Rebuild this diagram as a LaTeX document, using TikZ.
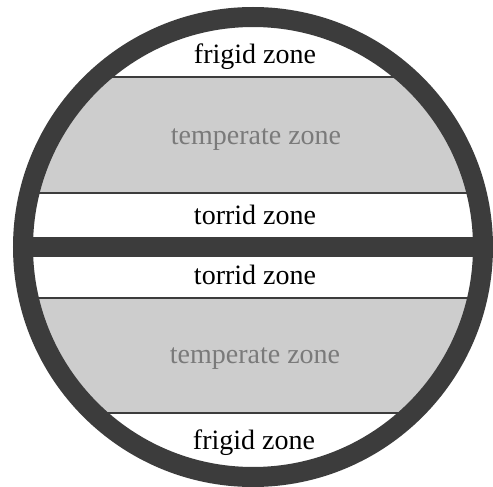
\documentclass[tikz,border=0pt]{standalone}
\usepackage{fontspec}
\setmainfont{Liberation Serif}
\definecolor{ringc}{HTML}{3C3C3C}
\definecolor{bandc}{HTML}{CDCDCD}
\definecolor{tempc}{HTML}{7A7A7A}
\tikzset{
  zonelabel/.style={anchor=base, inner sep=0pt, font=\fontsize{28}{28}\selectfont, text=black},
  templabel/.style={zonelabel, text=tempc},
  bandline/.style={draw=ringc, line width=1.6pt},
}
\begin{document}
\begin{tikzpicture}[x=1pt,y=-1pt]
\useasboundingbox (0,0) rectangle (493,487);
\fill[white] (0,0) rectangle (493,487);
\coordinate (c) at (253,247);
\begin{scope}
  \clip (c) circle[radius=222];
  \fill[bandc] (0,77) rectangle (493,193);
  \fill[bandc] (0,298) rectangle (493,413);
  \draw[bandline] (0,77) -- (493,77);
  \draw[bandline] (0,193) -- (493,193);
  \draw[bandline] (0,298) -- (493,298);
  \draw[bandline] (0,413) -- (493,413);
  \draw[ringc, line width=20pt] (0,247) -- (493,247);
\end{scope}
\draw[ringc, line width=20pt] (c) circle[radius=230];
\node[zonelabel] (f1) at (255,64) {frigid zone};
\node[templabel] (t1) at (256,144) {temperate zone};
\node[zonelabel] (r1) at (255,224) {torrid zone};
\node[zonelabel] (r2) at (255,284) {torrid zone};
\node[templabel] (t2) at (255,363) {temperate zone};
\node[zonelabel] (f2) at (254,449) {frigid zone};
\end{tikzpicture}
\end{document}
